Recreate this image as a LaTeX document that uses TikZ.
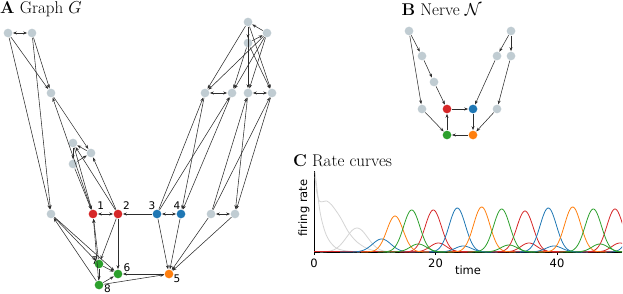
\documentclass[tikz,border=0pt]{standalone}
\usepackage{fontspec}
\newfontfamily\plotfont{DejaVu Sans}
\usetikzlibrary{arrows.meta}
\definecolor{mist}{RGB}{192,204,210}
\definecolor{tabred}{RGB}{214,39,40}
\definecolor{tabblue}{RGB}{31,119,180}
\definecolor{taborange}{RGB}{255,127,14}
\definecolor{tabgreen}{RGB}{44,160,44}
\definecolor{ink}{RGB}{45,45,45}
\definecolor{fog}{RGB}{212,212,212}
\tikzset{
  >={Stealth[length=4pt,width=3pt]},
  dot/.style={circle,fill=#1,inner sep=0pt,minimum size=8.7pt},
  dot/.default=mist,
  link/.style={->,draw=ink,line width=0.55pt,shorten >=0.3pt,shorten <=0.3pt},
  num/.style={font=\plotfont\fontsize{10.5}{11}\selectfont,inner sep=0pt},
  tick/.style={font=\plotfont\fontsize{11.5}{12}\selectfont,inner sep=0pt},
  panel/.style={font=\fontsize{17}{19}\selectfont,anchor=base west,inner sep=0pt},
  rate/.style={line width=0.8pt,draw=#1},
  rate/.default=fog,
}

\begin{document}
\begin{tikzpicture}[x=1pt,y=-1pt]
    \useasboundingbox (0,0) rectangle (623,294);
    \node[panel] (ta) at (0,14) {\textbf{A} Graph $G$};
    \node[panel] (tb) at (401.5,15.2) {\textbf{B} Nerve $\mathcal{N}$};
    \node[panel] (tc) at (293,166.7) {\textbf{C} Rate curves};

    % graph G
    \node[num] (l1) at (100.7,205.5) {1};
    \node[num] (l2) at (126.5,205.5) {2};
    \node[num] (l3) at (152,205.5) {3};
    \node[num] (l4) at (177,205.5) {4};
    \node[num] (l5) at (177,279) {5};
    \node[num] (l6) at (127,267.5) {6};
    \node[num] (l7) at (95,260.5) {7};
    \node[num] (l8) at (107.5,288.5) {8};
    \node[dot] (a1) at (8,33) {};
    \node[dot] (a2) at (32,33) {};
    \node[dot] (a3) at (51,93) {};
    \node[dot] (c1) at (73,143) {};
    \node[dot] (c2) at (91,153) {};
    \node[dot] (c3) at (73,164) {};
    \node[dot] (g1) at (51,214) {};
    \node[dot=tabred] (n1) at (93,214) {};
    \node[dot=tabred] (n2) at (118,214) {};
    \node[dot=tabblue] (n3) at (157,214) {};
    \node[dot=tabblue] (n4) at (181,214) {};
    \node[dot] (h1) at (211,214) {};
    \node[dot] (h2) at (235,214) {};
    \node[dot=taborange] (n5) at (169,274) {};
    \node[dot=tabgreen] (n6) at (118,274) {};
    \node[dot=tabgreen] (n7) at (99,264) {};
    \node[dot=tabgreen] (n8) at (99,285) {};
    \node[dot] (d1) at (248,22) {};
    \node[dot] (d2) at (267,33) {};
    \node[dot] (d3) at (248,43) {};
    \node[dot] (e1) at (205,93) {};
    \node[dot] (e2) at (232,93) {};
    \node[dot] (e3) at (248,93) {};
    \node[dot] (e4) at (272,93) {};
    \foreach \s/\t in {a1/a3,a2/a3,a1/g1,a2/g1,a3/c2,n1/a3,c2/c1,c1/c3,c3/c2,c1/n1,c3/n1,
        n2/c1,n2/c2,n3/n2,n2/n7,n2/n6,n3/n5,n4/n5,h1/n5,h2/n5,n7/n1,n8/n1,n7/n8,n7/n6,
        n8/n6,n5/n6,n8/n5,g1/n6,g1/n7,n8/g1,d2/d1,d1/d3,d3/d2,d1/e1,d2/e1,d2/e2,d3/e2,
        d1/e3,d2/e3,d1/e4,d3/e4,n3/e1,n3/e2,e1/n4,e2/n4,h1/e3,h1/e4,e3/h2,e4/h2}
      \draw[link] (\s) -- (\t);
    \foreach \s/\t in {a1/a2,n1/n2,n3/n4,h1/h2,e1/e2,e3/e4}
      \draw[link,<->] (\s) -- (\t);

    % nerve
    \node[dot] (b1) at (409,31) {};
    \node[dot] (b2) at (422,56) {};
    \node[dot] (b3) at (434,82) {};
    \node[dot] (b4) at (422,109) {};
    \node[dot=tabred] (br) at (447,109) {};
    \node[dot=tabblue] (bb) at (473,109) {};
    \node[dot] (b5) at (497,109) {};
    \node[dot=tabgreen] (bg) at (447,135) {};
    \node[dot=taborange] (bo) at (473,135) {};
    \node[dot] (b6) at (511,31) {};
    \node[dot] (b7) at (497,56) {};
    \node[dot] (b8) at (511,56) {};
    \foreach \s/\t in {b1/b2,b1/b4,b2/b3,b3/br,b4/bg,br/bb,bb/bo,bo/bg,bg/br,
        b6/b7,b6/b8,b7/bb,b8/b5,b5/bo}
      \draw[link] (\s) -- (\t);

    % rate curves
    \draw[line width=0.8pt] (314,171) -- (314,252) -- (622,252);
    \foreach \v/\l in {314/0,435.5/20,557/40} {
      \draw[line width=0.6pt] (\v,252) -- (\v,255);
      \node[tick] (x\l) at (\v,263) {\l};
    }
    \node[tick] (tlabel) at (468,270) {time};
    \node[tick,rotate=90] (ylabel) at (304,208) {firing rate};
    \begin{scope}
      \clip (314,150) rectangle (622,253);
      \draw[rate] plot[smooth] coordinates {(315,176.7) (316.7,191.7) (319.3,201) (322.7,201.7)
        (326.7,201) (331.7,205) (340,216.7) (348.3,231.7) (356.7,241.7) (366.7,248.3) (376.7,251) (390,252)};
      \draw[rate] plot[smooth] coordinates {(315,171.7) (320,211.7) (325,231.7) (330,241.7)
        (336.7,248.3) (346.7,251) (360,252)};
      \draw[rate] plot[domain=320:395,samples=50] (\x,{252-24*exp(-((\x-357)/15)^2)});
      \draw[rate=tabred] (314,251.6) -- (622,251.6);
      \draw[rate=tabblue] plot[domain=340:420,samples=50] (\x,{252-13*exp(-((\x-381.7)/13)^2)});
      \foreach \m/\h/\col in {433.3/42/tabred,525/41/tabred,615/43/tabred,438.3/9/tabred,
          529/9/tabred,620/9/tabred,457.3/44/tabblue,548.3/44/tabblue,639/44/tabblue,
          463.3/6/tabblue,554/6/tabblue,395/36/taborange,481.7/45/taborange,572.7/45/taborange,
          411.7/42/tabgreen,501.7/43/tabgreen,593.3/43/tabgreen,418.3/8/tabgreen,
          509/7/tabgreen,600/8/tabgreen} {
        \pgfmathsetmacro\lo{\m-34}
        \pgfmathsetmacro\hi{\m+34}
        \draw[rate=\col] plot[domain=\lo:\hi,samples=60] (\x,{252-\h*exp(-((\x-\m)/11.5)^2)});
      }
    \end{scope}
\end{tikzpicture}
\end{document}
